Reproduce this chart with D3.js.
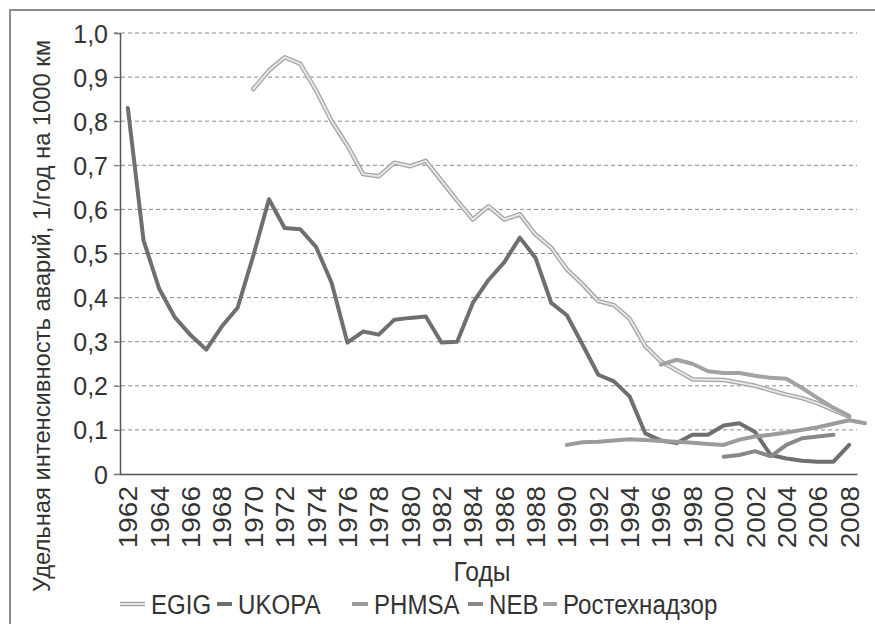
<!DOCTYPE html>
<html><head><meta charset="utf-8">
<script src="https://cdn.jsdelivr.net/npm/d3@7"></script>
<style>body{margin:0;background:#fff}svg{display:block}</style>
</head><body><svg id="c" width="875" height="624"></svg>
<script>
// ---- data ----
const yTicks = [0, 0.1, 0.2, 0.3, 0.4, 0.5, 0.6, 0.7, 0.8, 0.9, 1.0];
const yTickLabels = ["0", "0,1", "0,2", "0,3", "0,4", "0,5", "0,6", "0,7", "0,8", "0,9", "1,0"];
const xTickYears = [1962,1964,1966,1968,1970,1972,1974,1976,1978,1980,1982,1984,1986,1988,1990,1992,1994,1996,1998,2000,2002,2004,2006,2008];
const seriesNames = ["EGIG", "UKOPA", "PHMSA", "NEB", "Ростехнадзор"];

const egigStart = 1970;
const egigValues = [0.873,0.915,0.945,0.93,0.87,0.80,0.745,0.68,0.675,0.706,0.698,0.71,0.665,0.62,0.577,0.607,0.577,0.589,0.543,0.513,0.464,0.43,0.392,0.383,0.352,0.29,0.255,0.235,0.215,0.214,0.213,0.207,0.200,0.19,0.18,0.172,0.16,0.145,0.13];

const ukopaStart = 1962;
const ukopaValues = [0.83,0.53,0.42,0.355,0.315,0.282,0.335,0.377,0.495,0.623,0.558,0.555,0.515,0.433,0.298,0.323,0.316,0.35,0.354,0.357,0.298,0.30,0.388,0.44,0.48,0.536,0.49,0.388,0.36,0.293,0.225,0.21,0.176,0.092,0.076,0.07,0.089,0.089,0.11,0.115,0.095,0.043,0.035,0.03,0.028,0.028,0.066];

const phmsaStart = 1990;
const phmsaValues = [0.066,0.072,0.073,0.076,0.079,0.077,0.075,0.073,0.071,0.068,0.066,0.078,0.085,0.089,0.094,0.1,0.106,0.114,0.122,0.115];

const nebStart = 2000;
const nebValues = [0.039,0.043,0.052,0.040,0.066,0.081,0.085,0.089];

const rtnStart = 1996;
const rtnValues = [0.248,0.259,0.25,0.233,0.229,0.229,0.223,0.218,0.216,0.195,0.172,0.15,0.132];

// ---- layout ----
const svg = d3.select("#c");
const L = 120, R = 857, T = 33, B = 474;
const x = d3.scaleLinear().domain([1961.5, 2008.5]).range([L, R]);
const y = d3.scaleLinear().domain([0, 1]).range([B, T]);
const FONT = "Liberation Sans, Arial, sans-serif";

const styles = {
  "EGIG":         {outer:"#a4a4a4", inner:"#e6e6e6", w:4.5},
  "UKOPA":        {outer:"#6f6f6f", inner:null, w:4},
  "PHMSA":        {outer:"#9b9b9b", inner:null, w:4},
  "NEB":          {outer:"#888888", inner:null, w:4},
  "Ростехнадзор": {outer:"#a2a2a2", inner:null, w:4}
};
const series = [
  {name:"EGIG", start:egigStart, values:egigValues},
  {name:"UKOPA", start:ukopaStart, values:ukopaValues},
  {name:"PHMSA", start:phmsaStart, values:phmsaValues},
  {name:"NEB", start:nebStart, values:nebValues},
  {name:"Ростехнадзор", start:rtnStart, values:rtnValues}
];

// frame
svg.append("rect").attr("x",10).attr("y",10).attr("width",880).attr("height",640)
  .attr("fill","none").attr("stroke","#8c8c8c").attr("stroke-width",2);

// gridlines
svg.append("g").selectAll("line").data(yTicks.filter(d=>d>0)).join("line")
  .attr("x1",L-6).attr("x2",R).attr("y1",d=>y(d)).attr("y2",d=>y(d))
  .attr("stroke","#8a8a8a").attr("stroke-width",1).attr("stroke-dasharray","4,3");

// y axis
const yAxis = d3.axisLeft(y).tickValues(yTicks).tickFormat((d,i)=>yTickLabels[i]).tickSize(6).tickPadding(6);
const gy = svg.append("g").attr("transform",`translate(${L},0)`).call(yAxis);
gy.select(".domain").attr("stroke","#555").attr("stroke-width",1.5);
gy.selectAll(".tick line").attr("stroke","#777");
gy.selectAll("text").attr("font-family",FONT).attr("font-size",25).attr("fill","#333").attr("dy","0.36em");

// x axis baseline
const xAxis = d3.axisBottom(x).tickValues(xTickYears).tickFormat(d3.format("d")).tickSize(0).tickPadding(0);
const gx = svg.append("g").attr("transform",`translate(0,${B})`).call(xAxis);
gx.select(".domain").attr("stroke","#555").attr("stroke-width",1.5);
gx.selectAll("text")
  .attr("font-family",FONT).attr("font-size",25).attr("fill","#333")
  .attr("text-anchor","end").attr("transform","translate(0,12) rotate(-90) scale(1.12,1)").attr("x",0).attr("y",0).attr("dy","0.36em");

// lines
const line = d3.line().x(d=>x(d.year)).y(d=>y(d.v));
const gl = svg.append("g");
series.forEach(s=>{
  const pts = s.values.map((v,i)=>({year:s.start+i, v}));
  const st = styles[s.name];
  gl.append("path").datum(pts).attr("d",line).attr("fill","none")
    .attr("stroke",st.outer).attr("stroke-width",st.w).attr("stroke-linejoin","round").attr("stroke-linecap","round");
  if (st.inner) gl.append("path").datum(pts).attr("d",line).attr("fill","none")
    .attr("stroke",st.inner).attr("stroke-width",st.w-2.5).attr("stroke-linejoin","round").attr("stroke-linecap","round");
});

// y title
svg.append("text").text("Удельная интенсивность аварий, 1/год на 1000 км")
  .attr("font-family",FONT).attr("font-size",24).attr("fill","#333")
  .attr("text-anchor","middle").attr("transform","translate(50,316) rotate(-90)")
  .attr("textLength",552).attr("lengthAdjust","spacingAndGlyphs");

// x title
svg.append("text").text("Годы").attr("transform","translate(482,581) scale(0.88,1)")
  .attr("font-family",FONT).attr("font-size",28).attr("fill","#333").attr("text-anchor","middle");

// legend
const legendPos = [{sx:120, tx:151},{sx:217, tx:238},{sx:352, tx:374},{sx:468, tx:489},{sx:543, tx:563}];
const lg = svg.append("g");
seriesNames.forEach((n,i)=>{
  const st = styles[n], p = legendPos[i], ly = 604;
  lg.append("line").attr("x1",p.sx).attr("x2",p.tx-6).attr("y1",ly).attr("y2",ly)
    .attr("stroke",st.outer).attr("stroke-width",st.w);
  if (st.inner) lg.append("line").attr("x1",p.sx).attr("x2",p.tx-6).attr("y1",ly).attr("y2",ly)
    .attr("stroke",st.inner).attr("stroke-width",st.w-2.5);
  lg.append("text").text(n).attr("transform",`translate(${p.tx},${ly+10}) scale(0.86,1)`)
    .attr("font-family",FONT).attr("font-size",28).attr("fill","#333");
});
</script></body></html>
